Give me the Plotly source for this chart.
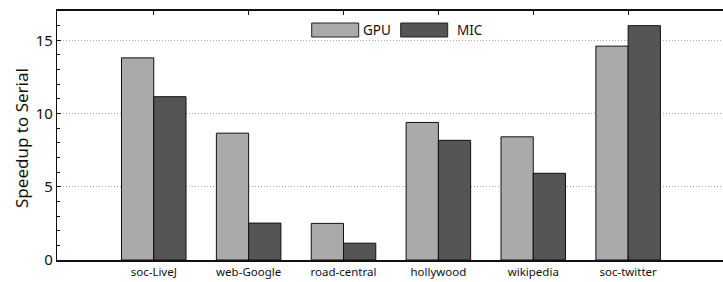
import plotly.graph_objects as go

categories = ["soc-LiveJ", "web-Google", "road-central", "hollywood", "wikipedia", "soc-twitter"]
gpu = [13.8, 8.66, 2.5, 9.39, 8.41, 14.6]
mic = [11.15, 2.52, 1.15, 8.17, 5.92, 16.0]
series_names = ["GPU", "MIC"]
colors = ["#aaaaaa", "#555555"]

W, H = 723, 282
L, R, T, B = 57, 0, 11, 22
pw, ph = W - L - R, H - T - B

fig = go.Figure()
for name, vals, col in zip(series_names, [gpu, mic], colors):
    fig.add_trace(go.Bar(x=categories, y=vals, name=name, marker=dict(color=col, line=dict(color="#111111", width=1)),
                         showlegend=False))

def px2paper(x, y):
    return (x - L) / pw, (H - B - y) / ph

# manual legend
leg = [("GPU", colors[0], 311.7, 358.7, 360.5), ("MIC", colors[1], 400.7, 447.7, 455.0)]
for name, col, x0, x1, tx in leg:
    a0, b0 = px2paper(x0, 37)
    a1, b1 = px2paper(x1, 23)
    fig.add_shape(type="rect", xref="paper", yref="paper", x0=a0, x1=a1, y0=b0, y1=b1,
                  fillcolor=col, line=dict(color="#222222", width=1))
    ax, ay = px2paper(tx, 30)
    fig.add_annotation(xref="paper", yref="paper", x=ax, y=ay, text=name, showarrow=False,
                       xanchor="left", yanchor="middle", font=dict(size=13.5, color="#111"))

# y-axis title as annotation
tx, ty = px2paper(21, 138)
fig.add_annotation(xref="paper", yref="paper", x=tx, y=ty, text="Speedup to Serial", showarrow=False,
                   textangle=-90, xanchor="center", yanchor="middle", font=dict(size=17, color="#111"))

fig.update_layout(
    width=W, height=H, margin=dict(l=L, r=R, t=T, b=B, autoexpand=False),
    plot_bgcolor="white", paper_bgcolor="white",
    barmode="group", bargap=0.32, bargroupgap=0,
    font=dict(family="Noto Sans", color="#111"),
)
fig.update_xaxes(range=[-1.02, 6.0], showline=True, linecolor="#111", linewidth=1.5, mirror="ticks",
                 ticks="inside", ticklen=4, tickcolor="#111", tickfont=dict(size=11.5), showgrid=False,
                 automargin=False)
fig.update_yaxes(range=[0, 17], dtick=5, showline=True, linecolor="#111", linewidth=1.2,
                 ticks="inside", ticklen=4, tickcolor="#111", tickfont=dict(size=15),
                 minor=dict(dtick=1, ticks="inside", ticklen=3, tickcolor="#111", showgrid=False),
                 showgrid=True, gridcolor="#aaaaaa", griddash="1px,2px", gridwidth=1, zeroline=False,
                 automargin=False)

fig.write_html("out.html", config={"displayModeBar": False},
               post_script="document.body.style.margin='0';document.body.style.overflow='hidden';")
